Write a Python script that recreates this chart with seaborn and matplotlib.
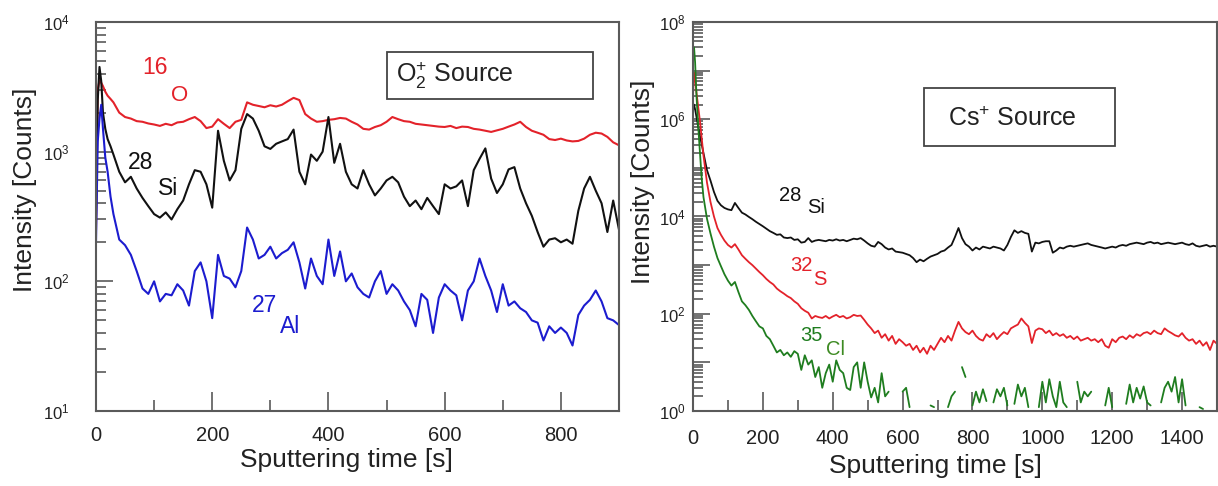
import matplotlib
matplotlib.use("Agg")
import numpy as np
import pandas as pd
import seaborn as sns
import matplotlib.pyplot as plt
from matplotlib.ticker import LogLocator, NullFormatter, FuncFormatter, MultipleLocator
from matplotlib.patches import Rectangle

# ---------------- data: O2+ source (left) ----------------
t_left = [0, 3, 6, 9, 12, 16, 20, 25, 30] + list(range(40, 901, 10))

o16_left = [250, 3000, 3550, 3400, 3200, 2900, 2700, 2550, 2400,
            2000, 1850, 1800, 1720, 1700, 1650,
            1620, 1580, 1640, 1600, 1680, 1700, 1780, 1850, 1720, 1520,
            1560, 1780, 1640, 1520, 1700, 1760, 2400, 2300, 2250, 2200,
            2280, 2230, 2300, 2450, 2600, 2500, 1950, 1800, 1700, 1720,
            1760, 1780, 1820, 1800, 1700, 1620, 1500, 1480, 1550, 1600,
            1700, 1850, 1780, 1720, 1700, 1640, 1620, 1600, 1580, 1560,
            1550, 1580, 1520, 1560, 1550, 1500, 1480, 1450, 1420, 1460,
            1500, 1560, 1620, 1700, 1550, 1450, 1400, 1350, 1250, 1230,
            1260, 1220, 1200, 1210, 1260, 1350, 1400, 1380, 1300, 1180,
            1120]

si28_left = [300, 2500, 4500, 3500, 2000, 1500, 1250, 1100, 950,
             700, 580, 640, 520, 440, 380,
             330, 310, 340, 300, 360, 420, 560, 720, 700, 560,
             370, 1450, 850, 600, 720, 1500, 1950, 1800, 1450, 1100,
             1050, 1150, 1200, 1250, 1480, 700, 560, 950, 850, 1000,
             1850, 820, 1150, 700, 560, 520, 720, 560, 460, 520,
             600, 640, 580, 450, 380, 420, 360, 440, 380, 330,
             560, 520, 540, 600, 380, 720, 880, 1060, 620, 480,
             560, 730, 760, 520, 400, 320, 240, 185, 210, 215,
             200, 210, 195, 350, 520, 640, 500, 400, 240, 420,
             250]

al27_left = [200, 1200, 1800, 2300, 1500, 900, 700, 450, 330,
             210, 190, 160, 120, 88, 80,
             100, 70, 80, 78, 95, 85, 65, 120, 140, 100,
             52, 160, 110, 105, 90, 120, 260, 210, 150, 160,
             185, 150, 165, 175, 200, 140, 88, 150, 110, 95,
             210, 110, 170, 100, 115, 90, 80, 75, 100, 120,
             80, 95, 85, 70, 60, 45, 80, 72, 40, 75,
             95, 85, 78, 50, 85, 100, 150, 110, 85, 58,
             95, 65, 70, 62, 58, 50, 48, 35, 45, 40,
             44, 40, 32, 55, 65, 72, 85, 70, 52, 50,
             46]

# ---------------- data: Cs+ source (right) ----------------
t_right = [0, 3, 6, 10, 15, 20, 25, 30] + list(range(40, 1501, 10))

si28_right = [1.5e6, 2.0e6, 1.6e6, 1.1e6, 7e5, 4.5e5, 3e5, 2e5,
              9e4, 5.5e4, 3.2e4, 2.1e4, 1.7e4, 1.5e4,
              1.4e4, 1.35e4, 1.9e4, 1.5e4, 1.2e4, 1.1e4, 9800, 8800, 7800, 7000,
              6300, 5600, 5000, 4600, 4200, 4300, 3700, 3600, 3700, 3300,
              3400, 2900, 3000, 3600, 3000, 3200, 3300, 3200, 3100, 3300,
              3200, 3400, 3200, 3300, 3100, 3300, 3500, 3400, 3600, 3200,
              2800, 2500, 2400, 3000, 2700, 2300, 2100, 2200, 1900, 1850,
              1800, 1700, 1600, 1400, 1150, 1300, 1200, 1350, 1500, 1600,
              1700, 1900, 2000, 2300, 2600, 3800, 5800, 3600, 2700, 2400,
              2000, 2300, 2100, 2400, 2300, 2200, 2400, 2300, 2200, 2000,
              2600, 3800, 5200, 4600, 5000, 4600, 4400, 1900, 2900, 2800,
              3000, 3100, 3100, 1800, 2000, 2300, 2200, 2400, 2500, 2400,
              2500, 2600, 2700, 2800, 2600, 2500, 2400, 2300, 2200, 2300,
              2400, 2300, 2500, 2600, 2500, 2700, 2800, 2900, 2800, 2700,
              2900, 3000, 2800, 2900, 2700, 2800, 2900, 2800, 2700, 2800,
              2900, 2700, 2600, 2800, 2500, 2400, 2500, 2600, 2400, 2500,
              2400]

s32_right = [3e6, 9e6, 7e6, 3.5e6, 1.8e6, 9e5, 4e5, 1.8e5,
             5e4, 2e4, 1e4, 5800, 4200, 3200,
             2600, 2300, 2700, 2100, 1600, 1350, 1150, 1000, 850, 720,
             620, 520, 450, 400, 330, 290, 260, 230, 210, 180,
             160, 130, 115, 105, 80, 90, 85, 82, 90, 80,
             88, 95, 85, 90, 80, 85, 95, 90, 92, 75,
             60, 50, 40, 45, 32, 38, 28, 35, 24, 30,
             26, 22, 24, 18, 22, 16, 20, 15, 22, 18,
             24, 32, 26, 35, 28, 45, 68, 50, 42, 38,
             45, 35, 30, 28, 38, 33, 40, 30, 36, 42,
             38, 50, 55, 60, 80, 65, 55, 25, 45, 50,
             48, 40, 45, 36, 40, 35, 38, 32, 35, 30,
             34, 28, 30, 32, 28, 30, 26, 30, 22, 20,
             30, 26, 32, 34, 30, 36, 32, 38, 35, 40,
             42, 38, 45, 40, 38, 50, 44, 40, 36, 34,
             40, 32, 28, 30, 24, 28, 22, 26, 18, 28,
             24]

nan = np.nan
cl35_right = [2e7, 3e7, 1.5e7, 3e6, 7e5, 2e5, 6e4, 2.5e4,
              9000, 4500, 2400, 1400, 950, 650,
              480, 380, 450, 280, 180, 150, 120, 90, 70, 55,
              50, 35, 30, 22, 16, 18, 14, 16, 13, 17,
              15, 7, 14, 9, 11, 5, 8, 3, 6, 9,
              4, 11, 7, 6, 3, 2.7, 8, 10, 3, 10,
              4, 1.9, 3, 1.5, 6, 2, 2.5, nan, nan, nan,
              2.5, 3, 1.2, nan, nan, nan, nan, nan, 1.3, 1.2,
              nan, 1.5, nan, 1.2, 2, 2.5, nan, 8, 5, nan,
              1.3, 2.5, 1.5, 2.8, 1.6, nan, 1.5, 2.8, 2, 3,
              1.3, nan, 1.4, 3.5, 2, 3, 1.2, nan, nan, 1.2,
              4, 1.5, 4.5, 2, 1.2, 4, 1.5, 1.2, nan, nan,
              4, 1.5, 2.5, 2, 2.5, nan, nan, nan, 1.3, 3,
              1.2, nan, nan, nan, 1.4, 3.5, 1.5, 3, 1.8, 3.2,
              1.5, 1.3, nan, nan, 1.5, 3, 4, 2.5, 5, 1.5,
              4.5, 1.3, nan, nan, nan, 1.2, 1.1, nan, nan, nan,
              nan]

left_xticks = [0, 200, 400, 600, 800]
right_xticks = [0, 200, 400, 600, 800, 1000, 1200, 1400]

# ---------------- style ----------------
sns.set_style("ticks")
plt.rcParams["font.family"] = ["Liberation Sans", "DejaVu Sans"]
plt.rcParams["mathtext.fontset"] = "custom"
plt.rcParams["mathtext.rm"] = "Liberation Sans"
plt.rcParams["mathtext.it"] = "Liberation Sans:italic"
plt.rcParams["mathtext.bf"] = "Liberation Sans:bold"

RED = "#e3222a"
BLACK = "#111111"
BLUE = "#1c1ccf"
GREEN = "#1f7d1f"
SPINE = "#5a5a5a"
TXT = "#222222"

fig = plt.figure(figsize=(12.18, 4.86), dpi=100)
axL = fig.add_axes([96 / 1218, 1 - 411 / 486, 523 / 1218, 389 / 486])
axR = fig.add_axes([693 / 1218, 1 - 411 / 486, 524 / 1218, 389 / 486])

for ax in (axL, axR):
    ax.set_yscale("log")

def line(ax, x, y, color, lw):
    df = pd.DataFrame({"t": x, "v": y})
    df["seg"] = df["v"].isna().cumsum()
    df = df.dropna()
    sns.lineplot(data=df, x="t", y="v", units="seg", estimator=None, sort=False,
                 color=color, lw=lw, ax=ax, legend=False)

line(axL, t_left, o16_left, RED, 1.5)
line(axL, t_left, si28_left, BLACK, 1.5)
line(axL, t_left, al27_left, BLUE, 1.5)

line(axR, t_right, si28_right, BLACK, 1.3)
line(axR, t_right, s32_right, RED, 1.3)
line(axR, t_right, cl35_right, GREEN, 1.3)

axL.set_xlim(0, 900)
axL.set_ylim(10, 1e4)
axR.set_xlim(0, 1500)
axR.set_ylim(1, 1e8)

fmt = FuncFormatter(lambda v, p: r"$\mathregular{10^{%d}}$" % round(np.log10(v)))
fmt_even = FuncFormatter(lambda v, p: (r"$\mathregular{10^{%d}}$" % round(np.log10(v)))
                         if round(np.log10(v)) % 2 == 0 else "")

for ax, xt, minor_x, ypad, xpad, majl, minl in (
        (axL, left_xticks, 100, 19, 11, 14, 8),
        (axR, right_xticks, 100, 5, 13, 14, 8)):
    ax.set_xticks(xt)
    ax.xaxis.set_minor_locator(MultipleLocator(minor_x))
    ax.yaxis.set_major_locator(LogLocator(base=10, numticks=20))
    ax.yaxis.set_minor_locator(LogLocator(base=10, subs=np.arange(2, 10), numticks=20))
    ax.yaxis.set_minor_formatter(NullFormatter())
    ax.tick_params(axis="both", which="both", direction="in", color=SPINE, width=1.2,
                   top=False, right=False)
    ax.tick_params(axis="x", which="major", length=majl, labelsize=14.5, pad=xpad, labelcolor=TXT)
    ax.tick_params(axis="x", which="minor", length=minl)
    ax.tick_params(axis="y", which="major", length=12, labelsize=12, pad=ypad, labelcolor=TXT)
    ax.tick_params(axis="y", which="minor", length=7)
    for s in ax.spines.values():
        s.set_visible(True)
        s.set_color(SPINE)
        s.set_linewidth(1.5)
    ax.set_xlabel("Sputtering time [s]", fontsize=19, color=TXT)
    ax.set_ylabel("Intensity [Counts]", fontsize=19, color=TXT)

axL.yaxis.set_major_formatter(fmt)
axR.yaxis.set_major_formatter(fmt_even)

axL.xaxis.set_label_coords(0.478, -0.095)
axR.xaxis.set_label_coords(0.462, -0.11)
axL.yaxis.set_label_coords(-0.112, 0.568)
axR.yaxis.set_label_coords(-0.072, 0.589)

# source boxes
axL.add_patch(Rectangle((0.556, 0.802), 0.394, 0.121, transform=axL.transAxes,
                        fill=False, ec="#444444", lw=1.3, zorder=5))
axL.text(0.573, 0.862, r"$\mathregular{O_2^{+}}$ Source", transform=axL.transAxes,
         fontsize=18, color=TXT, ha="left", va="center")
axR.add_patch(Rectangle((0.441, 0.681), 0.364, 0.149, transform=axR.transAxes,
                        fill=False, ec="#444444", lw=1.3, zorder=5))
axR.text(0.487, 0.752, r"Cs$\mathregular{^{+}}$ Source", transform=axR.transAxes,
         fontsize=18, color=TXT, ha="left", va="center")

# species labels (left)
for txt, x, y, c, fs in (("16", 0.113, 0.882, RED, 16.5), ("O", 0.159, 0.812, RED, 16),
                         ("28", 0.086, 0.640, BLACK, 16.5), ("Si", 0.138, 0.571, BLACK, 16.5),
                         ("27", 0.323, 0.272, BLUE, 16.5), ("Al", 0.371, 0.216, BLUE, 16.5)):
    axL.text(x, y, txt, transform=axL.transAxes, color=c, fontsize=fs, ha="center", va="center")

# species labels (right)
for txt, x, y, c in (("28", 0.185, 0.553, BLACK), ("Si", 0.235, 0.522, BLACK),
                     ("32", 0.206, 0.373, RED), ("S", 0.242, 0.337, RED),
                     ("35", 0.225, 0.195, GREEN), ("Cl", 0.271, 0.159, "#3d8a22")):
    axR.text(x, y, txt, transform=axR.transAxes, color=c, fontsize=14.5, ha="center", va="center")

fig.savefig("out.png", dpi=100)
